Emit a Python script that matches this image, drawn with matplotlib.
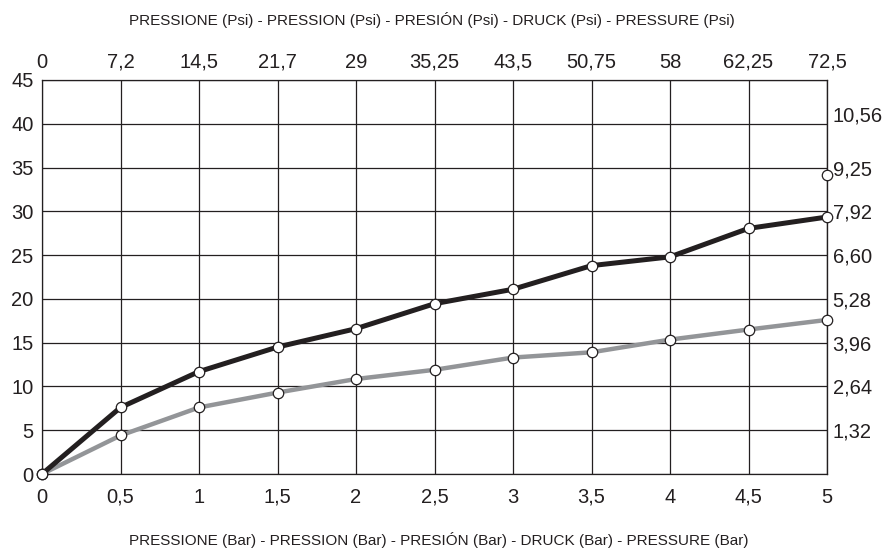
import numpy as np
import matplotlib
matplotlib.use("Agg")
import matplotlib.pyplot as plt
from matplotlib.transforms import ScaledTranslation

plt.rcParams['font.family'] = ['Liberation Sans', 'DejaVu Sans']

# --- dati ---
pressione_bar = [0, 0.5, 1, 1.5, 2, 2.5, 3, 3.5, 4, 4.5, 5]
serie_nera = [0, 7.6, 11.7, 14.5, 16.6, 19.45, 21.1, 23.8, 24.8, 28.05, 29.35]
serie_grigia = [0, 4.4, 7.6, 9.3, 10.85, 11.9, 13.3, 13.9, 15.35, 16.5, 17.6]
punto_isolato_x = [5]
punto_isolato_y = [34.1]

etichette_bar = ['0', '0,5', '1', '1,5', '2', '2,5', '3', '3,5', '4', '4,5', '5']
etichette_psi = ['0', '7,2', '14,5', '21,7', '29', '35,25', '43,5', '50,75', '58', '62,25', '72,5']
tick_sinistra = [0, 5, 10, 15, 20, 25, 30, 35, 40, 45]
tick_destra = [5, 10, 15, 20, 25, 30, 35, 40]
etichette_destra = ['1,32', '2,64', '3,96', '5,28', '6,60', '7,92', '9,25', '10,56']

titolo_alto = "PRESSIONE (Psi) - PRESSION (Psi) - PRESIÓN (Psi) - DRUCK (Psi) - PRESSURE (Psi)"
titolo_basso = "PRESSIONE (Bar) - PRESSION (Bar) - PRESIÓN (Bar) - DRUCK (Bar) - PRESSURE (Bar)"

NERO = '#231f20'
GRIGIO = '#939598'
DIM = 14.5

fig = plt.figure(figsize=(8.9, 5.5), dpi=100)
ax = fig.add_axes([42 / 890, 76 / 550, 785 / 890, 394 / 550])

ax.set_xlim(0, 5)
ax.set_ylim(0, 45)
ax.set_xticks(pressione_bar, etichette_bar)
ax.set_yticks(tick_sinistra)
ax.grid(True, color=NERO, lw=0.9)
ax.tick_params(length=0, labelsize=DIM, colors=NERO)
ax.tick_params(axis='x', pad=10)
ax.tick_params(axis='y', pad=6)
for spina in ax.spines.values():
    spina.set_color(NERO)
    spina.set_linewidth(0.9)

ax.plot(pressione_bar, serie_grigia, color=GRIGIO, lw=3.2, marker='o', ms=7.5,
        mfc='white', mec=NERO, mew=0.9, zorder=3, clip_on=False)
ax.plot(pressione_bar, serie_nera, color=NERO, lw=3.6, marker='o', ms=7.5,
        mfc='white', mec=NERO, mew=0.9, zorder=4, clip_on=False)
ax.plot(punto_isolato_x, punto_isolato_y, ls='none', marker='o', ms=7.5,
        mfc='white', mec=NERO, mew=0.9, zorder=4, clip_on=False)

# etichette superiori (Psi): allineate in alto, cosi' la virgola non le sposta
trasf_alto = ax.get_xaxis_transform() + ScaledTranslation(0, 0.275, fig.dpi_scale_trans)
for xv, testo in zip(pressione_bar, etichette_psi):
    ax.text(xv, 1, testo, transform=trasf_alto, ha='center', va='top',
            fontsize=DIM, color=NERO, clip_on=False)

# asse destro
ax_destra = ax.secondary_yaxis('right')
ax_destra.set_yticks(tick_destra, etichette_destra)
ax_destra.tick_params(length=0, labelsize=DIM, colors=NERO, pad=4)
for lab in ax_destra.get_yticklabels():
    if lab.get_text() == '10,56':
        lab.set_transform(lab.get_transform() + ScaledTranslation(0, 0.1, fig.dpi_scale_trans))

fig.text(432 / 890, 1 - 20 / 550, titolo_alto, ha='center', va='center', fontsize=11, color=NERO)
fig.text(439 / 890, 10 / 550, titolo_basso, ha='center', va='center', fontsize=11, color=NERO)

fig.savefig('out.png', dpi=100)
